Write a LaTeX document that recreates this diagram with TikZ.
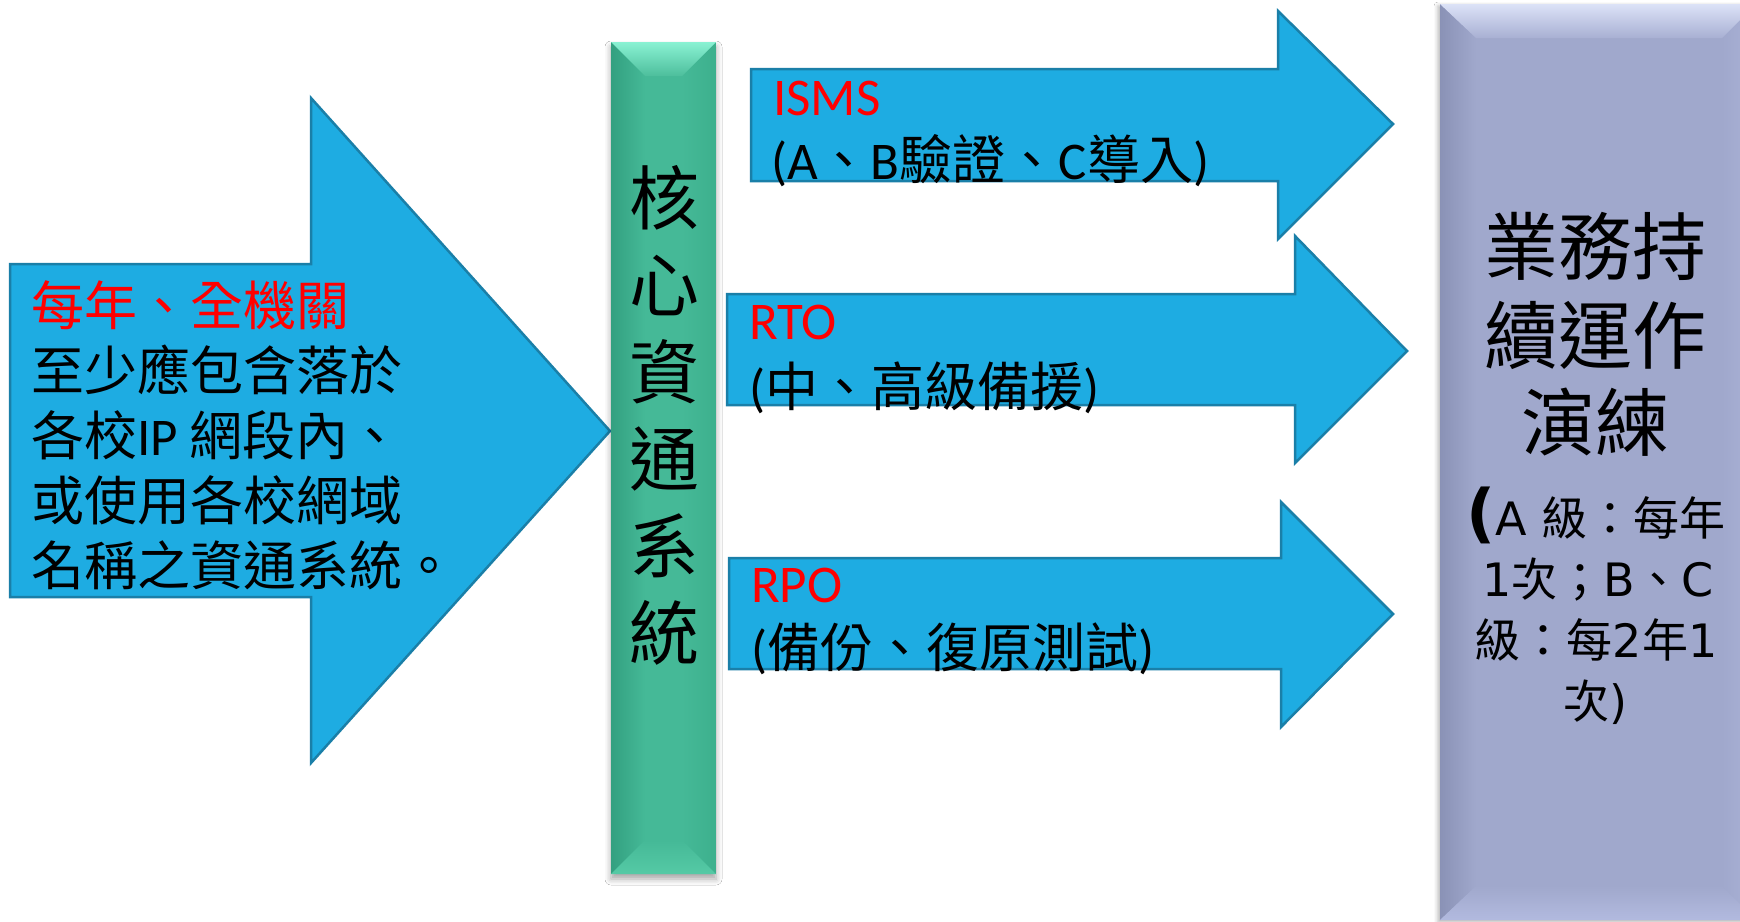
\documentclass[tikz,border=0pt]{standalone}
\usepackage{fontspec}
\usetikzlibrary{shadows.blur}
\newfontfamily\cjk{Noto Sans CJK TC}
\newfontfamily\lat{Carlito}
\newfontfamily\dv{DejaVu Sans}
\definecolor{arrowblue}{HTML}{1EACE2}
\definecolor{arrowedge}{HTML}{1A7FA8}
\definecolor{barmain}{HTML}{45B997}
\definecolor{bartopA}{HTML}{8AF2D3}
\definecolor{bartopB}{HTML}{4DBE9C}
\definecolor{barleftA}{HTML}{33A080}
\definecolor{barleftB}{HTML}{45B997}
\definecolor{barrightA}{HTML}{45B997}
\definecolor{barrightB}{HTML}{3DB08D}
\definecolor{barbotA}{HTML}{45B997}
\definecolor{barbotB}{HTML}{55CAA5}
\definecolor{boxmain}{HTML}{A0A8CC}
\definecolor{boxtopA}{HTML}{DCE2F7}
\definecolor{boxtopB}{HTML}{A8B0D3}
\definecolor{boxleftA}{HTML}{8A92B6}
\definecolor{boxleftB}{HTML}{A0A8CC}
\definecolor{boxrightB}{HTML}{AAB2D7}
\definecolor{boxbotB}{HTML}{B2BADF}
\definecolor{txtred}{HTML}{FF0000}
\newcommand\setfs[2]{\fontsize{#1}{#2}\selectfont}
\tikzset{
  bigarrow/.style={fill=arrowblue, draw=arrowedge, line width=2.5pt, line join=miter},
  lbl/.style={anchor=base west, inner sep=0pt, text=black, font=\setfs{53}{64}\cjk},
  ctr/.style={anchor=base, inner sep=0pt, text=black},
  barchar/.style={ctr, font=\setfs{70}{87}\cjk},
  boxtitle/.style={ctr, font=\setfs{74}{88}\cjk},
  boxsub/.style={ctr, font=\setfs{46}{61}\cjk},
}
\begin{document}
\begin{tikzpicture}[x=1pt,y=-1pt]
\useasboundingbox (0,0) rectangle (1740,921);
\fill[white] (0,0) rectangle (1740,921);

% left big arrow
\draw[bigarrow] (10,264) -- (311,264) -- (311,98) -- (610,431) -- (311,763) -- (311,597) -- (10,597) -- cycle;
\node[lbl] (l1) at (31,325) {\color{txtred}每年、全機關};
\node[lbl] (l2) at (31,390) {至少應包含落於};
\node[lbl] (l3) at (31,455) {各校{\lat IP }網段內、};
\node[lbl] (l4) at (31,520) {或使用各校網域};
\node[lbl] (l5) at (31,585) {名稱之資通系統。};

% green bar with bevel
\fill[barmain, blur shadow={shadow xshift=0pt, shadow yshift=-5pt, shadow blur radius=6pt, shadow opacity=35}] (611,42) rectangle (716,874);
\shade[left color=barleftA, right color=barleftB] (611,42) -- (645,76) -- (645,840) -- (611,874) -- cycle;
\shade[left color=barrightA, right color=barrightB] (716,42) -- (716,874) -- (682,840) -- (682,76) -- cycle;
\shade[top color=barbotA, bottom color=barbotB] (611,874) -- (645,840) -- (682,840) -- (716,874) -- cycle;
\shade[top color=bartopA, bottom color=bartopB] (611,42) -- (716,42) -- (682,76) -- (645,76) -- cycle;
\node[barchar] (c1) at (664,224) {核};
\node[barchar] (c2) at (664,311) {心};
\node[barchar] (c3) at (664,398) {資};
\node[barchar] (c4) at (664,485) {通};
\node[barchar] (c5) at (664,572) {系};
\node[barchar] (c6) at (664,659) {統};

% ISMS arrow
\draw[bigarrow] (751,69) -- (1278,69) -- (1278,11) -- (1393,124) -- (1278,239) -- (1278,181) -- (751,181) -- cycle;
\node[lbl, font=\setfs{53}{64}\lat, text=txtred] (isms) at (773,115) {ISMS};
\node[lbl] (ismsd) at (771,179) {{\lat (A}、{\lat B}驗證、{\lat C}導入{\lat )}};

% RTO arrow
\draw[bigarrow] (727,294) -- (1295,294) -- (1295,236) -- (1407,351) -- (1295,463) -- (1295,405) -- (727,405) -- cycle;
\node[lbl, font=\setfs{53}{64}\lat, text=txtred] (rto) at (749,339) {RTO};
\node[lbl] (rtod) at (749,406) {{\lat (}中、高級備援{\lat )}};

% RPO arrow
\draw[bigarrow] (729,558) -- (1281,558) -- (1281,502) -- (1393,614) -- (1281,727) -- (1281,669) -- (729,669) -- cycle;
\node[lbl, font=\setfs{53}{64}\lat, text=txtred] (rpo) at (751,602) {RPO};
\node[lbl] (rpod) at (751,667) {{\lat (}備份、復原測試{\lat )}};

% right box with bevel
\fill[boxmain, blur shadow={shadow xshift=-2pt, shadow yshift=-2pt, shadow blur radius=4pt, shadow opacity=30}] (1440,4) rectangle (1756,920);
\shade[left color=boxleftA, right color=boxleftB] (1440,4) -- (1476,38) -- (1476,886) -- (1440,920) -- cycle;
\shade[left color=boxmain, right color=boxrightB] (1756,4) -- (1756,920) -- (1722,886) -- (1722,38) -- cycle;
\shade[top color=boxmain, bottom color=boxbotB] (1440,920) -- (1476,886) -- (1722,886) -- (1756,920) -- cycle;
\shade[top color=boxtopA, bottom color=boxtopB] (1440,4) -- (1756,4) -- (1722,38) -- (1476,38) -- cycle;
\node[boxtitle] (t1) at (1595,274) {業務持};
\node[boxtitle] (t2) at (1595,363) {續運作};
\node[boxtitle] (t3) at (1595,450) {演練};
\node[boxsub] (s1) at (1596,535) {{\dv\setfs{64}{61}\bfseries (}{\dv A }級：每年};
\node[boxsub] (s2) at (1598,596) {{\dv 1}次；{\dv B}、{\dv C}};
\node[boxsub] (s3) at (1596,657) {級：每{\dv 2}年{\dv 1}};
\node[boxsub] (s4) at (1595,718) {次{\dv )}};
\end{tikzpicture}
\end{document}
